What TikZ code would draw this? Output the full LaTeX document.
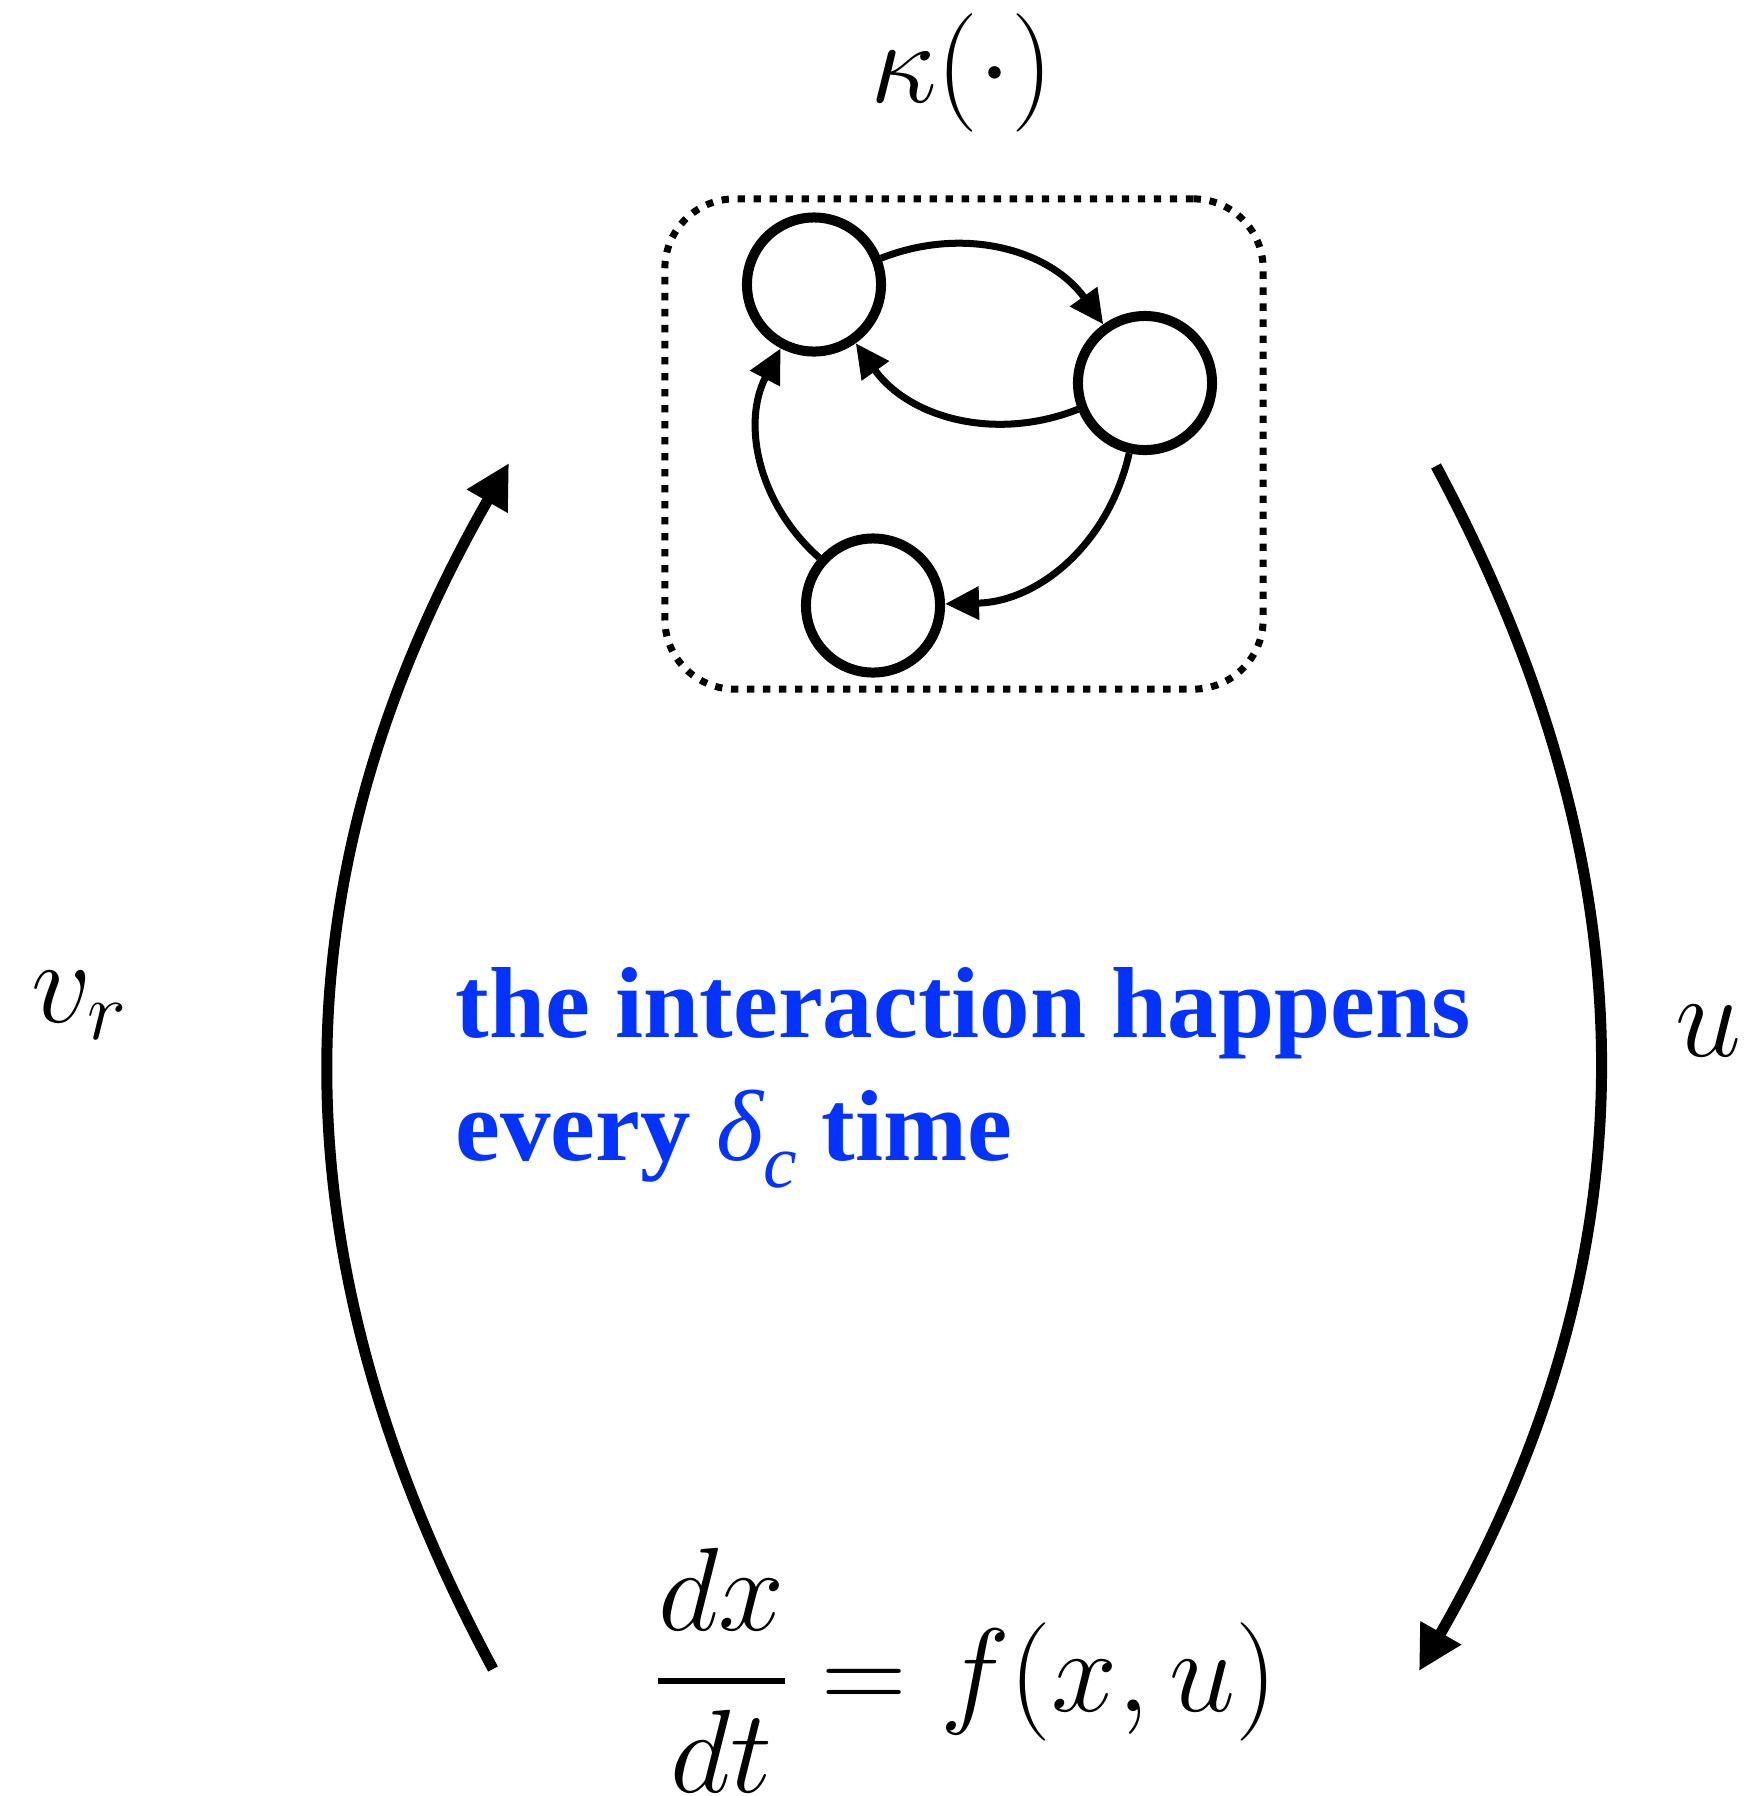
\RequirePackage{fix-cm}
\documentclass[tikz,border=0pt]{standalone}
\usepackage{fontspec}
\newfontfamily\notefont{Liberation Serif}
\usetikzlibrary{arrows.meta}
\definecolor{noteblue}{RGB}{4,51,255}

\begin{document}
\begin{tikzpicture}[
        x=0.01cm, y=-0.01cm,
        agent/.style={circle, draw, line width=0.1cm, minimum size=1.34cm, inner sep=0},
        link/.style={-{Triangle[length=0.34cm, width=0.32cm]}, line width=0.07cm, bend left=38},
        loopline/.style={-{Triangle[length=0.44cm, width=0.44cm]}, line width=0.11cm, bend left=29},
        ctrlbox/.style={rectangle, draw, line width=0.07cm, dash pattern=on 0.073cm off 0.087cm, rounded corners=0.7cm, minimum width=5.98cm, minimum height=4.9cm},
        mathlabel/.style={inner sep=0, font=\fontsize{33.7}{40}\selectfont},
        note/.style={inner sep=0, align=left, text=noteblue, font=\notefont\bfseries\fontsize{28.7}{34.7}\selectfont}
    ]
        \useasboundingbox (0,0) rectangle (1753,1796);

        \node[ctrlbox] (ctrl) at (964,444) {};
        \node[agent] (ka) at (814,284.5) {};
        \node[agent] (kb) at (1145,383) {};
        \node[agent] (kc) at (873,605.5) {};

        \draw[link] (ka) to (kb);
        \draw[link] (kb) to (ka);
        \draw[link] (kb) to (kc);
        \draw[link] (kc) to (ka);

        \node[mathlabel, anchor=base] (kappa) at (962,102) {$\kappa(\cdot)$};
        \node[mathlabel, anchor=base west] (vr) at (31,1022) {$v_r$};
        \node[mathlabel, anchor=base west] (uin) at (1675,1056) {$u$};
        \node[mathlabel, anchor=base] (plant) at (966,1711) {$\displaystyle{dx\above1.7pt dt}=f(x,u)$};

        \node[note, anchor=base west] (rate) at (455,1160) {the interaction happens\\every {\mdseries\itshape δ\raisebox{-0.27em}{\fontsize{21.5}{21.5}\selectfont c}} time};

        \coordinate (vrfoot) at (493,1669);
        \coordinate (vrtip) at (509,463);
        \coordinate (utop) at (1436,466);
        \coordinate (utip) at (1419,1671);
        \draw[loopline] (vrfoot) to (vrtip);
        \draw[loopline] (utop) to (utip);
    \end{tikzpicture}
\end{document}
